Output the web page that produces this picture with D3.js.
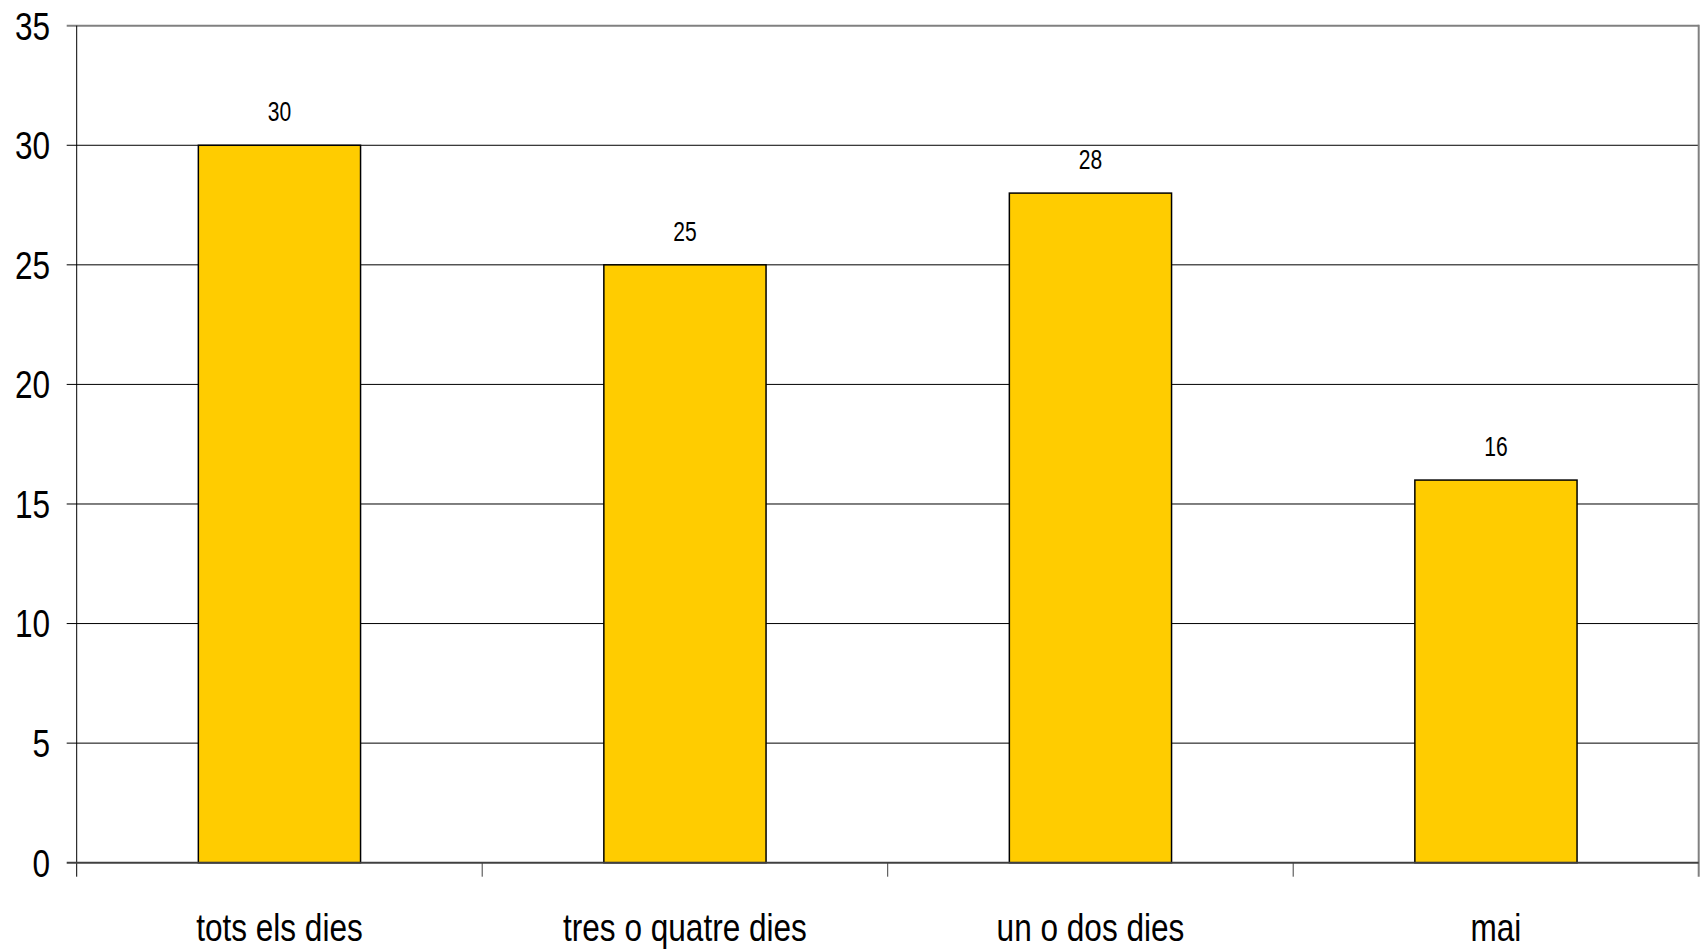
<!DOCTYPE html>
<html><head><meta charset="utf-8">
<script src="https://cdn.jsdelivr.net/npm/d3@7"></script>
<style>
html,body{margin:0;padding:0;background:#fff;}
svg{display:block;}
text{font-family:"Liberation Sans Narrow","Arial Narrow","Liberation Sans",Arial,sans-serif;fill:#000;}
</style></head>
<body><svg id="chart" width="1702" height="952"></svg>
<script>
const categories = ["tots els dies", "tres o quatre dies", "un o dos dies", "mai"];
const values = [30, 25, 28, 16];
const yTicks = [0, 5, 10, 15, 20, 25, 30, 35];

const svg = d3.select("#chart");
const pLeft = 76.7, pRight = 1698.7, pTop = 25.7, pBottom = 862.7;
const narrow = 0.82;

const x = d3.scaleBand().domain(categories).range([pLeft, pRight]).paddingInner(0.6).paddingOuter(0.3);
const xb = d3.scaleBand().domain(categories).range([pLeft, pRight]).padding(0);
const y = d3.scaleLinear().domain([0, 35]).range([pBottom, pTop]);

// gridlines
svg.append("g").selectAll("line").data(yTicks.filter(d => d > 0 && d < 35)).join("line")
  .attr("x1", pLeft - 10).attr("x2", pRight).attr("y1", d => y(d)).attr("y2", d => y(d))
  .attr("stroke", "#000").attr("stroke-width", 1);
// top gridline (gray)
svg.append("line").attr("x1", pLeft - 10).attr("x2", pRight).attr("y1", y(35)).attr("y2", y(35))
  .attr("stroke", "#808080").attr("stroke-width", 2);

// y labels
svg.append("g").selectAll("text").data(yTicks).join("text")
  .attr("transform", d => `translate(50,${y(d)}) scale(${narrow},1)`)
  .attr("dy", "0.36em")
  .attr("text-anchor", "end").attr("font-size", 38.5).text(d => d);

// bars
svg.append("g").selectAll("rect").data(values).join("rect")
  .attr("x", (d, i) => x(categories[i])).attr("width", x.bandwidth())
  .attr("y", d => y(d)).attr("height", d => pBottom - y(d))
  .attr("fill", "#FFCC00").attr("stroke", "#000").attr("stroke-width", 1.5);

// value labels
svg.append("g").selectAll("text").data(values).join("text")
  .attr("transform", (d, i) => `translate(${x(categories[i]) + x.bandwidth() / 2},${y(d) - 24}) scale(0.78,1)`)
  .attr("text-anchor", "middle").attr("font-size", 27).text(d => d);

// left axis
svg.append("line").attr("x1", pLeft).attr("x2", pLeft).attr("y1", pTop).attr("y2", pBottom + 14)
  .attr("stroke", "#000").attr("stroke-width", 1);
// right border
svg.append("line").attr("x1", pRight).attr("x2", pRight).attr("y1", pTop - 1).attr("y2", pBottom + 14)
  .attr("stroke", "#808080").attr("stroke-width", 2);
// bottom axis
svg.append("line").attr("x1", pLeft - 10).attr("x2", pRight).attr("y1", pBottom).attr("y2", pBottom)
  .attr("stroke", "#404040").attr("stroke-width", 2);
// x ticks at band boundaries
const bounds = categories.map(c => xb(c)).slice(1);
svg.append("g").selectAll("line").data(bounds).join("line")
  .attr("x1", d => d).attr("x2", d => d).attr("y1", pBottom).attr("y2", pBottom + 14)
  .attr("stroke", "#404040").attr("stroke-width", 1);

// category labels
svg.append("g").selectAll("text").data(categories).join("text")
  .attr("transform", d => `translate(${x(d) + x.bandwidth() / 2},941) scale(${narrow},1)`)
  .attr("text-anchor", "middle").attr("font-size", 38.5).text(d => d);
</script></body></html>
